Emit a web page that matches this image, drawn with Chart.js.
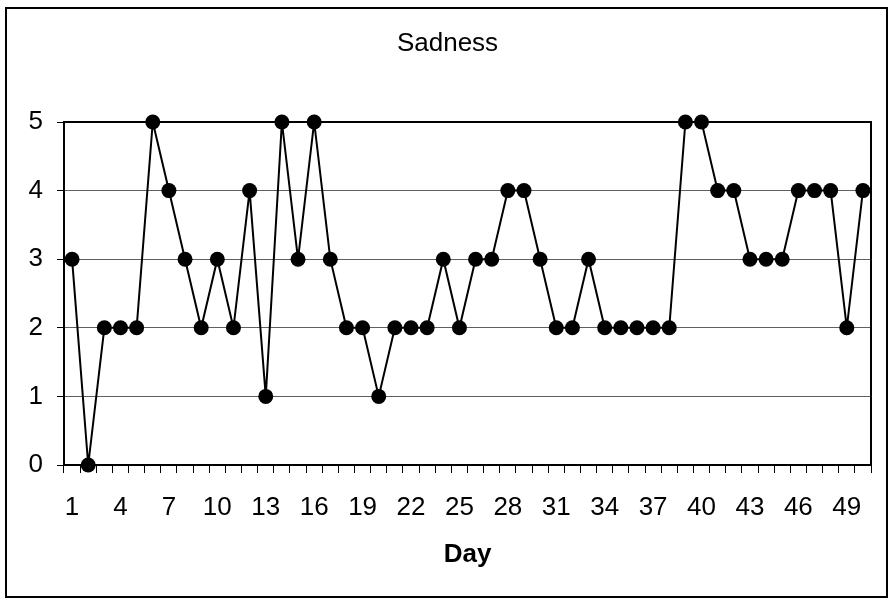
<!DOCTYPE html>
<html>
<head>
<meta charset="utf-8">
<script src="https://cdn.jsdelivr.net/npm/chart.js@4"></script>
<style>
html,body{margin:0;padding:0;background:#fff;}
#wrap{position:relative;width:893px;height:603px;}
</style>
</head>
<body>
<div id="wrap"><canvas id="c" width="893" height="603"></canvas></div>
<script>
const days = [1,2,3,4,5,6,7,8,9,10,11,12,13,14,15,16,17,18,19,20,21,22,23,24,25,26,27,28,29,30,31,32,33,34,35,36,37,38,39,40,41,42,43,44,45,46,47,48,49,50];
const sadness = [3,0,2,2,2,5,4,3,2,3,2,4,1,5,3,5,3,2,2,1,2,2,2,3,2,3,3,4,4,3,2,2,3,2,2,2,2,2,5,5,4,4,3,3,3,4,4,4,2,4];
const shownDayLabels = [1,4,7,10,13,16,19,22,25,28,31,34,37,40,43,46,49];
const yTicks = [0,1,2,3,4,5];

const FONT = "'Liberation Sans', Arial, sans-serif";

const framePlugin = {
  id: 'frame',
  beforeDraw(chart) {
    const ctx = chart.ctx;
    ctx.save();
    ctx.fillStyle = '#fff';
    ctx.fillRect(0, 0, chart.width, chart.height);
    ctx.strokeStyle = '#000';
    ctx.lineWidth = 2;
    ctx.strokeRect(6, 8, 881, 589);
    ctx.restore();
  },
  beforeDatasetsDraw(chart) {
    const a = chart.chartArea;
    const ctx = chart.ctx;
    ctx.save();
    ctx.strokeStyle = '#000';
    ctx.lineWidth = 2;
    ctx.strokeRect(a.left, a.top, a.right - a.left, a.bottom - a.top);
    ctx.restore();
  }
};

new Chart(document.getElementById('c'), {
  type: 'line',
  data: {
    labels: days,
    datasets: [{
      label: 'Sadness',
      data: sadness,
      borderColor: '#000',
      borderWidth: 2,
      backgroundColor: '#000',
      pointBackgroundColor: '#000',
      pointBorderColor: '#000',
      pointRadius: 7.5,
      pointBorderWidth: 0,
      tension: 0,
      clip: false
    }]
  },
  options: {
    responsive: false,
    animation: false,
    devicePixelRatio: 1,
    layout: { padding: { left: 24, right: 22, top: 0, bottom: 0 } },
    plugins: {
      legend: { display: false },
      tooltip: { enabled: false },
      title: {
        display: true,
        text: 'Sadness',
        color: '#000',
        font: { family: FONT, size: 26, weight: 'normal' },
        padding: { top: 28.5, bottom: 62.3 }
      }
    },
    scales: {
      x: {
        type: 'category',
        offset: true,
        grid: {
          offset: true,
          drawOnChartArea: false,
          drawTicks: true,
          tickLength: 8,
          color: '#000',
          lineWidth: 1
        },
        border: { display: true, color: '#000', width: 2 },
        ticks: {
          autoSkip: false,
          maxRotation: 0,
          minRotation: 0,
          color: '#000',
          padding: 19,
          font: { family: FONT, size: 26 },
          callback: function(value, index) {
            const d = days[index];
            return shownDayLabels.includes(d) ? String(d) : '';
          }
        },
        title: {
          display: true,
          text: 'Day',
          color: '#000',
          font: { family: FONT, size: 26, weight: 'bold' },
          padding: { top: 0, bottom: 33 }
        },
        afterFit(scale) { scale.height = 138; }
      },
      y: {
        min: 0,
        max: 5,
        afterBuildTicks(scale) { scale.ticks = yTicks.map(v => ({ value: v })); },
        grid: {
          color: '#606060',
          lineWidth: 1,
          tickLength: 7,
          tickColor: '#000',
          drawTicks: true
        },
        border: { display: true, color: '#000', width: 2 },
        ticks: {
          color: '#000',
          padding: 14,
          font: { family: FONT, size: 26 }
        },
        afterFit(scale) { scale.width = 40; }
      }
    }
  },
  plugins: [framePlugin]
});
</script>
</body>
</html>
